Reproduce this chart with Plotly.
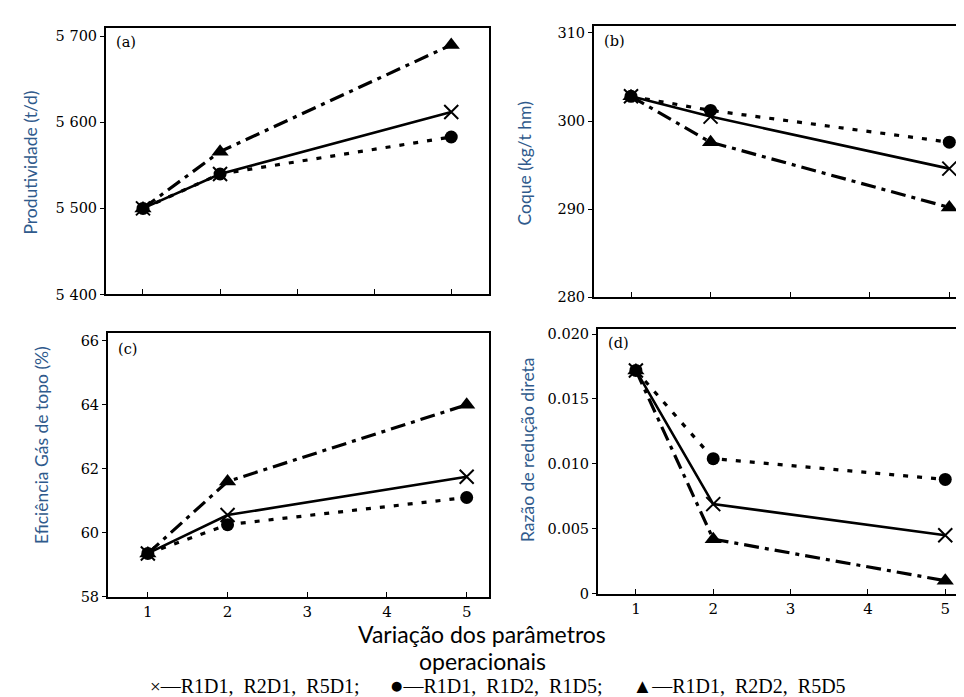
import plotly.graph_objects as go

# ---- data ----
x_vals = [1, 2, 5]
x_ticks = [1, 2, 3, 4, 5]

prod_x = [5500, 5540, 5612]
prod_circle = [5500, 5540, 5583]
prod_tri = [5500, 5566, 5690]

coke_x = [302.8, 300.5, 294.6]
coke_circle = [302.8, 301.2, 297.6]
coke_tri = [302.8, 297.6, 290.2]

eff_x = [59.35, 60.55, 61.75]
eff_circle = [59.35, 60.25, 61.1]
eff_tri = [59.35, 61.6, 64.0]

rdr_x = [0.0172, 0.0069, 0.0045]
rdr_circle = [0.0172, 0.0104, 0.0088]
rdr_tri = [0.0172, 0.0042, 0.0010]

prod_ticks = [5400, 5500, 5600, 5700]
prod_ticktext = ["5 400", "5 500", "5 600", "5 700"]
coke_ticks = [280, 290, 300, 310]
eff_ticks = [58, 60, 62, 64, 66]
rdr_ticks = [0, 0.005, 0.010, 0.015, 0.020]
rdr_ticktext = ["0", "0.005", "0.010", "0.015", "0.020"]

panel_labels = ["(a)", "(b)", "(c)", "(d)"]
y_titles = ["Produtividade (t/d)", "Coque (kg/t hm)",
            "Eficiência Gás de topo (%)", "Razão de redução direta"]
x_title_lines = ["Variação dos parâmetros", "operacionais"]
legend_items = [("×", ["R1D1", "R2D1", "R5D1"], ";"),
                ("●", ["R1D1", "R1D2", "R1D5"], ";"),
                ("▲", ["R1D1", "R2D2", "R5D5"], "")]

SERIF = "DejaVu Serif"
LSERIF = "Liberation Serif"
SANS = "Lato"
BLUE = "#2F5A8C"

fig = go.Figure()

panels = [
    dict(xa="x", ya="y", data=(prod_x, prod_circle, prod_tri)),
    dict(xa="x2", ya="y2", data=(coke_x, coke_circle, coke_tri)),
    dict(xa="x3", ya="y3", data=(eff_x, eff_circle, eff_tri)),
    dict(xa="x4", ya="y4", data=(rdr_x, rdr_circle, rdr_tri)),
]

for p in panels:
    sx, sc, st = p["data"]
    fig.add_trace(go.Scatter(x=x_vals, y=sc, xaxis=p["xa"], yaxis=p["ya"], mode="lines+markers",
                             line=dict(color="black", width=3.2, dash="5px,9px"),
                             marker=dict(symbol="circle", size=13, color="black"), showlegend=False))
    fig.add_trace(go.Scatter(x=x_vals, y=st, xaxis=p["xa"], yaxis=p["ya"], mode="lines+markers",
                             line=dict(color="black", width=3.2, dash="15px,6px,4px,6px"),
                             marker=dict(symbol="triangle-up", size=15, color="black"), showlegend=False))
    fig.add_trace(go.Scatter(x=x_vals, y=sx, xaxis=p["xa"], yaxis=p["ya"], mode="lines+markers",
                             line=dict(color="black", width=2.6),
                             marker=dict(symbol="x-thin-open", size=14, color="black",
                                         line=dict(width=2, color="black")), showlegend=False))

W, H = 964, 697
def dx(a, b):
    return [a / W, b / W]
def dy(top, bottom):
    return [1 - bottom / H, 1 - top / H]

common_x = dict(showgrid=False, zeroline=False, showline=True, linecolor="black", linewidth=2,
                mirror=True, ticks="inside", ticklen=5, tickcolor="black", tickvals=x_ticks,
                tickfont=dict(family=SERIF, size=15, color="black"))
common_y = dict(showgrid=False, zeroline=False, showline=True, linecolor="black", linewidth=2,
                mirror=True, ticks="outside", ticklen=4, tickcolor="black",
                tickfont=dict(family=SERIF, size=14.5, color="black"))

fig.update_layout(
    width=W, height=H, margin=dict(l=0, r=0, t=0, b=0),
    plot_bgcolor="white", paper_bgcolor="white",
    xaxis=dict(common_x, domain=dx(98, 481), range=[0.52, 5.49], anchor="y", showticklabels=False),
    yaxis=dict(common_y, domain=dy(17, 288), range=[5400, 5710], anchor="x",
               tickvals=prod_ticks, ticktext=prod_ticktext),
    xaxis2=dict(common_x, domain=dx(586, 962), range=[0.535, 5.26], anchor="y2", showticklabels=False),
    yaxis2=dict(common_y, domain=dy(15, 291), range=[280, 310.8], anchor="x2", tickvals=coke_ticks),
    xaxis3=dict(common_x, domain=dx(100, 481), range=[0.5, 5.28], anchor="y3"),
    yaxis3=dict(common_y, domain=dy(327, 595), range=[58, 66.25], anchor="x3", tickvals=eff_ticks),
    xaxis4=dict(common_x, domain=dx(590, 962), range=[0.51, 5.32], anchor="y4"),
    yaxis4=dict(common_y, domain=dy(323, 592), range=[0, 0.0204], anchor="x4",
                tickvals=rdr_ticks, ticktext=rdr_ticktext),
)

annotations = []
label_pos = [(106, 32), (594, 30), (108, 343), (598, 337)]
for lab, (px, py) in zip(panel_labels, label_pos):
    annotations.append(dict(text=lab, x=px / W, y=1 - py / H, xref="paper", yref="paper",
                            xanchor="left", yanchor="middle", showarrow=False,
                            font=dict(family=SERIF, size=14.5, color="black")))
title_pos = [(23, 154), (517, 155), (33, 441), (520, 446)]
for t, (px, py) in zip(y_titles, title_pos):
    annotations.append(dict(text=t, x=px / W, y=1 - py / H, xref="paper", yref="paper",
                            xanchor="center", yanchor="middle", textangle=-90, showarrow=False,
                            font=dict(family=SANS, size=17.5, color=BLUE)))
for line, py in zip(x_title_lines, (633, 660)):
    annotations.append(dict(text=line, x=474 / W, y=1 - py / H, xref="paper", yref="paper",
                            xanchor="center", yanchor="middle", showarrow=False,
                            font=dict(family=SANS, size=23, color="black")))
sym_sizes = [19, 23, 20]
NB = "\u00a0"
parts = []
for (sym, labs, end), sz in zip(legend_items, sym_sizes):
    parts.append(f"<span style='font-size:{sz}px'>{sym}</span>—" + ("," + NB * 2).join(labs) + end)
legend_text = (NB * 6).join(parts)
annotations.append(dict(text=legend_text, x=490 / W, y=1 - 685 / H, xref="paper", yref="paper",
                        xanchor="center", yanchor="middle", showarrow=False,
                        font=dict(family=LSERIF, size=20, color="black")))
fig.update_layout(annotations=annotations)

fig.write_html("out.html")
